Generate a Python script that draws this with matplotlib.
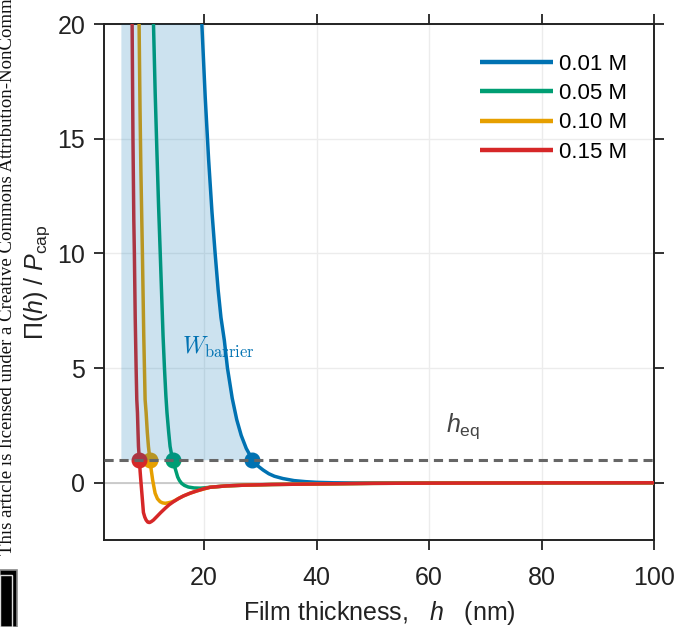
import matplotlib
matplotlib.use('Agg')
import matplotlib.pyplot as plt
from matplotlib.patches import Rectangle

# ---------------- data ----------------
labels = ['0.01 M', '0.05 M', '0.10 M', '0.15 M']
colors = ['#0072B2', '#009E73', '#E69F00', '#D62728']

blue_h = [19.6, 20.2, 20.8, 21.4, 21.96, 22.5, 23.0, 23.6, 24.15, 25.0, 25.8, 26.6,
          27.5, 28.6, 29.5, 30.5, 31.5, 32.5, 34.0, 36.0, 38.0, 40.0, 43.0, 47.0,
          55.0, 65.0, 80.0, 100.0]
blue_v = [20.0, 16.8, 14.1, 11.8, 10.0, 8.4, 7.2, 6.2, 5.0, 3.68, 2.75, 2.06,
          1.49, 1.0, 0.74, 0.55, 0.39, 0.28, 0.18, 0.09, 0.045, 0.015, -0.005, -0.015,
          -0.013, -0.008, -0.004, -0.002]

green_h = [11.0, 11.3, 11.6, 11.9, 12.2, 12.45, 12.7, 12.95, 13.2, 13.4, 13.7, 13.95,
           14.2, 14.4, 14.7, 15.0, 15.3, 15.6, 16.0, 16.5, 17.2, 18.2, 19.3, 20.3,
           21.5, 24.0, 27.0, 32.0, 38.8, 50.0, 60.0, 80.0, 100.0]
green_v = [20.0, 17.0, 14.5, 12.1, 10.0, 8.2, 6.4, 5.0, 3.8, 3.05, 2.2, 1.58,
           1.25, 1.0, 0.75, 0.5, 0.25, 0.1, -0.03, -0.12, -0.19, -0.23, -0.24, -0.22,
           -0.19, -0.14, -0.11, -0.08, -0.06, -0.03, -0.02, -0.01, -0.005]

orange_h = [8.44, 8.6, 8.76, 8.92, 9.03, 9.15, 9.27, 9.39, 9.51, 9.69, 9.9, 10.1,
            10.25, 10.4, 10.6, 10.85, 11.05, 11.29, 11.7, 12.18, 12.6, 13.07, 13.6,
            14.25, 14.8, 15.5, 16.32, 17.5, 18.7, 21.07, 24.0, 27.0, 32.0, 38.8, 50.0,
            60.0, 80.0, 100.0]
orange_v = [20.0, 16.4, 13.6, 11.46, 10.0, 8.2, 6.4, 5.0, 3.62, 3.05, 2.2, 1.58,
            1.25, 1.0, 0.55, 0.12, -0.15, -0.46, -0.7, -0.83, -0.88, -0.9, -0.88,
            -0.84, -0.78, -0.68, -0.58, -0.46, -0.36, -0.2, -0.14, -0.11, -0.08, -0.06,
            -0.03, -0.02, -0.01, -0.005]

red_h = [7.2, 7.35, 7.5, 7.6, 7.75, 7.91, 8.03, 8.15, 8.25, 8.33, 8.42, 8.5, 8.62,
         8.74, 8.88, 9.03, 9.21, 9.45, 9.69, 9.98, 10.28, 10.6, 10.99, 11.59, 12.3,
         13.07, 13.8, 14.55, 15.4, 16.32, 17.5, 18.7, 19.9, 21.07, 24.0, 27.0, 32.0,
         38.8, 50.0, 60.0, 80.0, 100.0]
red_v = [20.0, 15.0, 11.46, 10.0, 7.2, 5.0, 3.62, 3.05, 2.2, 1.58, 1.25, 1.0, 0.5,
         0.12, -0.3, -0.75, -1.3, -1.5, -1.63, -1.72, -1.74, -1.7, -1.63, -1.48, -1.3,
         -1.12, -0.96, -0.83, -0.7, -0.58, -0.46, -0.36, -0.27, -0.2, -0.14, -0.11,
         -0.08, -0.06, -0.03, -0.02, -0.01, -0.005]

h_eq = [28.6, 14.4, 10.4, 8.5]          # crossing points with Pi/Pcap = 1
pi_level = 1.0
h_min = 5.2                               # left edge of the barrier shading

xticks = [20, 40, 60, 80, 100]
yticks = [0, 5, 10, 15, 20]

# ---------------- style ----------------
plt.rcParams['font.family'] = ['Liberation Sans', 'DejaVu Sans']
plt.rcParams['mathtext.fontset'] = 'custom'
plt.rcParams['mathtext.rm'] = 'Liberation Sans'
plt.rcParams['mathtext.it'] = 'Liberation Sans:italic'
plt.rcParams['mathtext.bf'] = 'Liberation Sans:bold'

fig = plt.figure(figsize=(6.79, 6.27), dpi=100)
ax = fig.add_axes([104/679, 87/627, 550/679, 516/627])

ax.set_xlim(2.2, 100)
ax.set_ylim(-2.5, 20)
ax.set_xticks(xticks)
ax.set_yticks(yticks)
ax.grid(True, color='#ececec', lw=1.0, zorder=0)
ax.set_axisbelow(True)

ax.axhline(0, color='#c4c4c4', lw=1.2, zorder=1)

curves = [(blue_h, blue_v), (green_h, green_v), (orange_h, orange_v), (red_h, red_v)]
for (hh, vv), c, lab, he in zip(curves, colors, labels, h_eq):
    ax.plot(hh, vv, color=c, lw=2.5, label=lab, zorder=3,
            solid_joinstyle='round', solid_capstyle='butt')
    ax.plot([he], [pi_level], 'o', color=c, ms=10.5, zorder=4)

# barrier shading between h_min and the 0.01 M curve, above Pi/Pcap = 1
sh_v = [v for v in blue_v if v >= pi_level]
sh_h = [h for h, v in zip(blue_h, blue_v) if v >= pi_level]
ax.fill_betweenx(sh_v, h_min, sh_h, color='#0072B2', alpha=0.2, lw=0, zorder=5)

ax.axhline(pi_level, color='#666666', lw=2.2, dashes=(3.0, 1.9), zorder=6)

ax.text(22.6, 5.9, r'$W_{\mathrm{barrier}}$', color='#0072B2', fontsize=17,
        ha='center', va='center', math_fontfamily='cm', zorder=7)
ax.text(66.0, 2.45, r'$h_{\mathrm{eq}}$', color='#444444', fontsize=18,
        ha='center', va='center', zorder=7)

ax.set_xlabel(r'Film thickness,   $h$   (nm)', fontsize=18, color='#222222', labelpad=7)
ax.set_ylabel(r'$\Pi(h)$ / $P_{\mathrm{cap}}$', fontsize=18, color='#222222', labelpad=4)

for s in ax.spines.values():
    s.set_linewidth(1.4)
    s.set_color('#222222')
ax.tick_params(direction='out', length=7.5, width=1.3, top=True, right=True,
               labelsize=18, colors='#222222')
ax.tick_params(axis='y', pad=6)
ax.tick_params(axis='x', pad=11)

leg = ax.legend(loc='upper right', bbox_to_anchor=(0.975, 0.968), frameon=False,
                fontsize=16, handlelength=3.3, handletextpad=0.25, labelspacing=0.37,
                borderaxespad=0.2)
for line in leg.get_lines():
    line.set_linewidth(3.2)

# page artefacts at the left edge of the reference image
fig.text(16/679, 72/627,
         'This article is licensed under a Creative Commons Attribution-NonCommercial 3.0 Unported Licence.',
         rotation=90, ha='right', va='bottom', fontsize=13.5,
         family=['Liberation Serif', 'DejaVu Serif'], color='#111111')
fig.patches.append(Rectangle((0, 0), 17/679, 57/627, transform=fig.transFigure,
                             facecolor='black', edgecolor='#888888', lw=1.2))
fig.patches.append(Rectangle((0, 0), 12/679, 52/627, transform=fig.transFigure,
                             facecolor='none', edgecolor='#dddddd', lw=1.0))

fig.savefig('out.png', dpi=100)
